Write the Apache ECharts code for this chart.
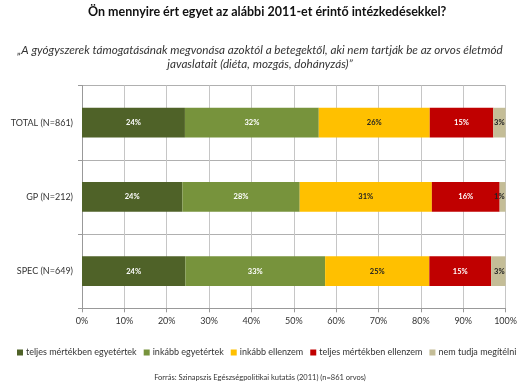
<!DOCTYPE html>
<html><head><meta charset="utf-8">
<script src="https://cdn.jsdelivr.net/npm/echarts@6/dist/echarts.min.js"></script>
<style>html,body{margin:0;padding:0;background:#fff}#c{width:520px;height:385px}</style>
</head><body><div id="c"></div>
<script>
const categories = ['TOTAL (N=861)', 'GP (N=212)', 'SPEC (N=649)'];
const seriesNames = ['teljes mértékben egyetértek', 'inkább egyetértek', 'inkább ellenzem', 'teljes mértékben ellenzem', 'nem tudja megítélni'];
const teljesEgyet = [24.3, 23.7, 24.4];
const inkabbEgyet = [31.6, 27.7, 33.0];
const inkabbEllen = [26.2, 31.2, 24.6];
const teljesEllen = [15.0, 16.0, 14.6];
const nemTudja = [2.9, 1.4, 3.4];
const xTicks = [0, 10, 20, 30, 40, 50, 60, 70, 80, 90, 100];

const colors = ['#4F6228', '#77933C', '#FFC000', '#C00000', '#C4BD97'];
const labelColors = ['#ffffff', '#ffffff', '#222222', '#ffffff', '#222222'];
const values = [teljesEgyet, inkabbEgyet, inkabbEllen, teljesEllen, nemTudja];
const FONT = 'Lato';

const chart = echarts.init(document.getElementById('c'));
chart.setOption({
  animation: false,
  backgroundColor: '#fff',
  textStyle: { fontFamily: FONT },
  title: [
    { text: 'Ön mennyire ért egyet az alábbi 2011-et érintő intézkedésekkel?', left: 88, top: 5, padding: 0,
      textStyle: { fontFamily: FONT, fontSize: 12.5, fontWeight: 'bold', color: '#111' } },
    { text: '„A gyógyszerek támogatásának megvonása azoktól a betegektől, aki nem tartják be az orvos életmód', left: 'center', top: 39,
      textStyle: { fontFamily: FONT, fontSize: 11.7, fontStyle: 'italic', fontWeight: 'normal', color: '#333' } },
    { text: 'javaslatait (diéta, mozgás, dohányzás)”', left: 'center', top: 53,
      textStyle: { fontFamily: FONT, fontSize: 11.7, fontStyle: 'italic', fontWeight: 'normal', color: '#333' } },
    { text: 'Forrás: Szinapszis Egészségpolitikai kutatás (2011) (n=861 orvos)', left: 'center', top: 369,
      textStyle: { fontFamily: FONT, fontSize: 7.5, fontWeight: 'normal', color: '#333' } }
  ],
  legend: {
    data: seriesNames, left: 17, top: 348, icon: 'rect', itemWidth: 6, itemHeight: 6, itemGap: 7, padding: 0,
    textStyle: { fontFamily: FONT, fontSize: 9, color: '#333', padding: [0, 0, 0, -2] }
  },
  grid: { left: 82, right: 14, top: 85.5, bottom: 76.7, containLabel: false },
  xAxis: {
    type: 'value', min: xTicks[0], max: xTicks[xTicks.length - 1], interval: 10,
    axisLine: { show: true, lineStyle: { color: '#999' } },
    axisTick: { show: true, length: 4, lineStyle: { color: '#999' } },
    splitLine: { show: true, lineStyle: { color: '#c6c6c6' } },
    axisLabel: { formatter: v => v + '%', fontFamily: FONT, fontSize: 9, color: '#333', margin: 8 }
  },
  yAxis: {
    type: 'category', data: categories, inverse: true,
    axisLine: { show: true, lineStyle: { color: '#999' } },
    axisTick: { show: true, length: 4, lineStyle: { color: '#999' } },
    splitLine: { show: true, lineStyle: { color: '#b0b0b0' } },
    axisLabel: { fontFamily: FONT, fontSize: 9, color: '#333', margin: 9 }
  },
  series: seriesNames.map((n, i) => ({
    name: n, type: 'bar', stack: 'all', barWidth: '40%', data: values[i],
    itemStyle: { color: colors[i] },
    label: { show: true, position: i === 4 ? 'insideRight' : 'inside', formatter: p => Math.round(p.value) + '%',
      fontFamily: FONT, fontSize: 7.5, fontWeight: 'bold', color: labelColors[i], offset: i === 4 ? [4, 0] : [0, 0] }
  }))
});
</script></body></html>
